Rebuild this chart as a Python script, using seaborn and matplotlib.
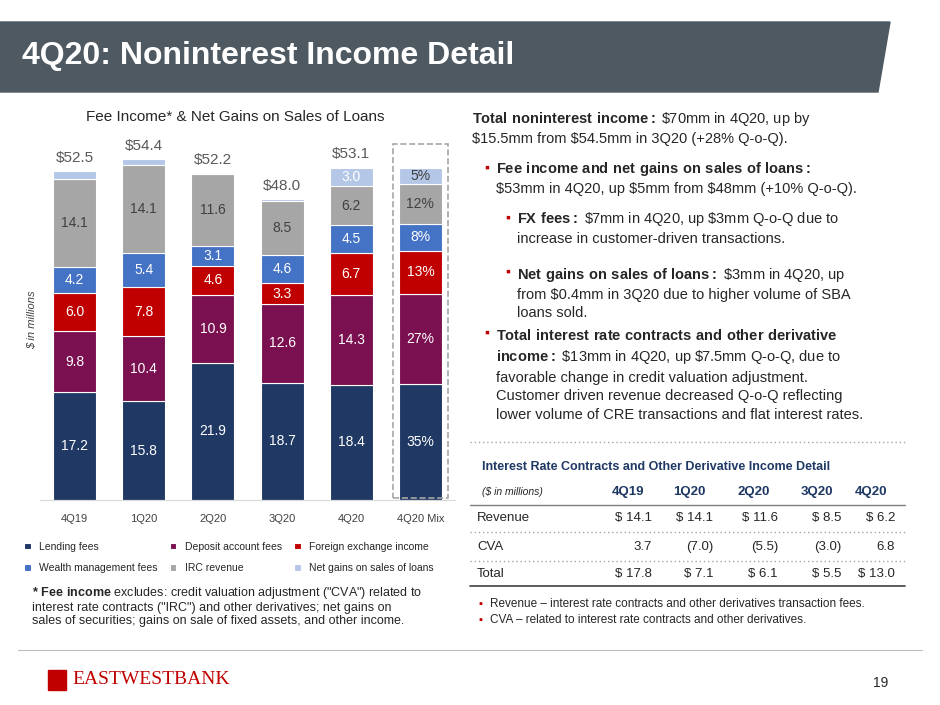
import matplotlib
matplotlib.use('Agg')
import matplotlib.pyplot as plt
import seaborn as sns
import pandas as pd
import numpy as np
from matplotlib.patches import Polygon, Rectangle

sns.set_style('white')
plt.rcParams['font.family'] = ['Liberation Sans', 'DejaVu Sans']
plt.rcParams['mathtext.fontset'] = 'custom'
plt.rcParams['mathtext.rm'] = 'Liberation Sans'
plt.rcParams['mathtext.bf'] = 'Liberation Sans:bold'

quarters = ['4Q19', '1Q20', '2Q20', '3Q20', '4Q20']
series = ['Lending fees', 'Deposit account fees', 'Foreign exchange income',
          'Wealth management fees', 'IRC revenue', 'Net gains on sales of loans']
lending = [17.2, 15.8, 21.9, 18.7, 18.4]
deposit = [9.8, 10.4, 10.9, 12.6, 14.3]
fx = [6.0, 7.8, 4.6, 3.3, 6.7]
wealth = [4.2, 5.4, 3.1, 4.6, 4.5]
irc = [14.1, 14.1, 11.6, 8.5, 6.2]
net_gains = [1.2, 0.9, 0.1, 0.3, 3.0]
totals = ['$52.5', '$54.4', '$52.2', '$48.0', '$53.1']
mix_pct = [35, 27, 13, 8, 12, 5]
mix_total = 53.1
colors = ['#1F3864', '#7B1050', '#C00000', '#4472C4', '#A6A6A6', '#B4C7E7']

fig = plt.figure(figsize=(9.4, 7.05), dpi=100)
W, H = 940, 705
def fx_(x): return x / W
def fy_(y): return 1 - y / H

# header band
fig.patches.append(Polygon([[0, fy_(22)], [fx_(890), fy_(22)], [fx_(878), fy_(92)], [0, fy_(92)]],
                           closed=True, transform=fig.transFigure, color='#4E5962', zorder=0))
fig.text(fx_(22), fy_(56), '4Q20: Noninterest Income Detail', color='white', fontsize=23,
         fontweight='bold', va='center')

# stacked bar chart
ax = fig.add_axes([fx_(40), fy_(500), fx_(415), (500 - 140) / H])
cats = quarters + ['4Q20 Mix']
layers = [lending, deposit, fx, wealth, irc, net_gains]
bottom = np.zeros(6)
for i, (name, vals) in enumerate(zip(series, layers)):
    heights = np.array(list(vals) + [mix_pct[i] * mix_total / 100])
    df = pd.DataFrame({'q': cats, 'v': heights})
    sns.barplot(data=df, x='q', y='v', bottom=bottom, color=colors[i], width=0.62,
                ax=ax, label=name, edgecolor='white', linewidth=0.8, saturation=1)
    for j in range(6):
        if heights[j] >= 2:
            txt = f'{mix_pct[i]}%' if j == 5 else f'{heights[j]:.1f}'
            tc = '#404040' if i == 4 else 'white'
            if i == 5:
                tc = 'white' if j == 4 else '#404040'
            ax.text(j, bottom[j] + heights[j] / 2, txt, ha='center', va='center',
                    color=tc, fontsize=10)
    bottom = bottom + heights
for j, t in enumerate(totals):
    ax.text(j, bottom[j] + 1.0, t, ha='center', va='bottom', fontsize=11, color='#595959')
ax.add_patch(Rectangle((4.6, 0.3), 0.8, 56.6, fill=False, ls='--', ec='#A6A6A6', lw=1.2,
                       clip_on=False))
ax.set_ylim(0, 57.5)
ax.set_xlim(-0.5, 5.5)
ax.set_yticks([])
ax.set_xlabel('')
ax.set_ylabel('$ in millions', fontsize=8, style='italic', color='#404040', labelpad=2)
ax.tick_params(axis='x', labelsize=8, colors='#404040', length=0, pad=10)
for s in ['top', 'right', 'left']:
    ax.spines[s].set_visible(False)
ax.spines['bottom'].set_color('#D9D9D9')
h, l = ax.get_legend_handles_labels()
order = [0, 3, 1, 4, 2, 5]
ax.legend([h[k] for k in order], [l[k] for k in order], loc='upper left',
          bbox_to_anchor=(-0.06, -0.09), ncol=3, frameon=False, fontsize=7.5,
          handlelength=0.6, handleheight=0.6, columnspacing=1.2, labelspacing=1.1)
fig.text(fx_(235), fy_(117), 'Fee Income* & Net Gains on Sales of Loans', ha='center',
         va='center', fontsize=11)

fig.text(fx_(32), fy_(606), r'$\bf{*\ Fee\ income}$ excludes: credit valuation adjustment ("CVA") related to' '\n'
         'interest rate contracts ("IRC") and other derivatives; net gains on\n'
         'sales of securities; gains on sale of fixed assets, and other income.',
         fontsize=9, va='center', linespacing=1.15)

# right-hand text
tx = 472
fig.text(fx_(tx), fy_(128), r'$\bf{Total\ noninterest\ income:}$ \$70mm in 4Q20, up by'
         '\n\$15.5mm from \$54.5mm in 3Q20 (+28% Q-o-Q).', fontsize=10.5, va='center',
         linespacing=1.4)
bullets = [
    (484, 496, 178, r'$\bf{Fee\ income\ and\ net\ gains\ on\ sales\ of\ loans:}$'
     '\n\$53mm in 4Q20, up \$5mm from \$48mm (+10% Q-o-Q).'),
    (505, 517, 228, r'$\bf{FX\ fees:}$ \$7mm in 4Q20, up \$3mm Q-o-Q due to'
     '\nincrease in customer-driven transactions.'),
    (505, 517, 293, r'$\bf{Net\ gains\ on\ sales\ of\ loans:}$ \$3mm in 4Q20, up'
     '\nfrom \$0.4mm in 3Q20 due to higher volume of SBA\nloans sold.'),
    (484, 496, 375, r'$\bf{Total\ interest\ rate\ contracts\ and\ other\ derivative}$'
     '\n' r'$\bf{income:}$ \$13mm in 4Q20, up \$7.5mm Q-o-Q, due to'
     '\nfavorable change in credit valuation adjustment.\nCustomer driven revenue decreased Q-o-Q reflecting'
     '\nlower volume of CRE transactions and flat interest rates.'),
]
for bx, x, y, t in bullets:
    n = t.count('\n') + 1
    top = y - (n - 1) * 10.5
    fig.text(fx_(bx), fy_(top), '\u25aa', color='#C00000', fontsize=10, va='center')
    fig.text(fx_(x), fy_(y), t, fontsize=10.5, va='center', linespacing=1.4)

fig.lines.append(plt.Line2D([fx_(470), fx_(905)], [fy_(442)] * 2, transform=fig.transFigure,
                            color='#A6A6A6', ls=(0, (1, 2)), lw=1))

# table
col_x = [652, 713, 778, 841, 895]
tbl_cols = ['4Q19', '1Q20', '2Q20', '3Q20', '4Q20']
rev = ['$ 14.1', '$ 14.1', '$ 11.6', '$ 8.5', '$ 6.2']
cva = ['3.7', '(7.0)', '(5.5)', '(3.0)', '6.8']
tot = ['$ 17.8', '$ 7.1', '$ 6.1', '$ 5.5', '$ 13.0']
fig.text(fx_(482), fy_(467), 'Interest Rate Contracts and Other Derivative Income Detail',
         fontsize=9, fontweight='bold', color='#1F3864', va='center')
fig.text(fx_(482), fy_(492), '($ in millions)', fontsize=7.5, style='italic', va='center')
for x, c in zip(col_x, tbl_cols):
    fig.text(fx_(x - 8), fy_(492), c, fontsize=9.5, fontweight='bold', color='#1F3864',
             ha='right', va='center')
fig.lines.append(plt.Line2D([fx_(470), fx_(905)], [fy_(505)] * 2, transform=fig.transFigure,
                            color='#7F7F7F', lw=1))
for y, lab, vals, sep in [(518, 'Revenue', rev, True), (547, 'CVA', cva, True),
                          (574, 'Total', tot, False)]:
    fig.text(fx_(477), fy_(y), lab, fontsize=9.5, va='center')
    for x, v in zip(col_x, vals):
        fig.text(fx_(x), fy_(y), v, fontsize=9.5, ha='right', va='center')
    if sep:
        fig.lines.append(plt.Line2D([fx_(470), fx_(905)], [fy_(y + 14)] * 2,
                                    transform=fig.transFigure, color='#A6A6A6',
                                    ls=(0, (1, 2)), lw=1))
fig.lines.append(plt.Line2D([fx_(470), fx_(905)], [fy_(586)] * 2, transform=fig.transFigure,
                            color='#404040', lw=1.2))
for y, t in [(604, 'Revenue \u2013 interest rate contracts and other derivatives transaction fees.'),
             (620, 'CVA \u2013 related to interest rate contracts and other derivatives.')]:
    fig.text(fx_(478), fy_(y), '\u25aa', color='#C00000', fontsize=8, va='center')
    fig.text(fx_(490), fy_(y), t, fontsize=8.5, va='center')

# footer
fig.lines.append(plt.Line2D([fx_(18), fx_(922)], [fy_(650)] * 2, transform=fig.transFigure,
                            color='#BFBFBF', lw=0.8))
fig.patches.append(Rectangle((fx_(48), fy_(690)), 18 / W, 20 / H, transform=fig.transFigure,
                             color='#C00000'))
fig.text(fx_(72), fy_(680), 'EASTWESTBANK', fontsize=14, color='#C00000', va='center',
         family=['Liberation Serif', 'DejaVu Serif'])
fig.text(fx_(888), fy_(683), '19', fontsize=10, ha='right', va='center')

fig.savefig('out.png', dpi=100)
